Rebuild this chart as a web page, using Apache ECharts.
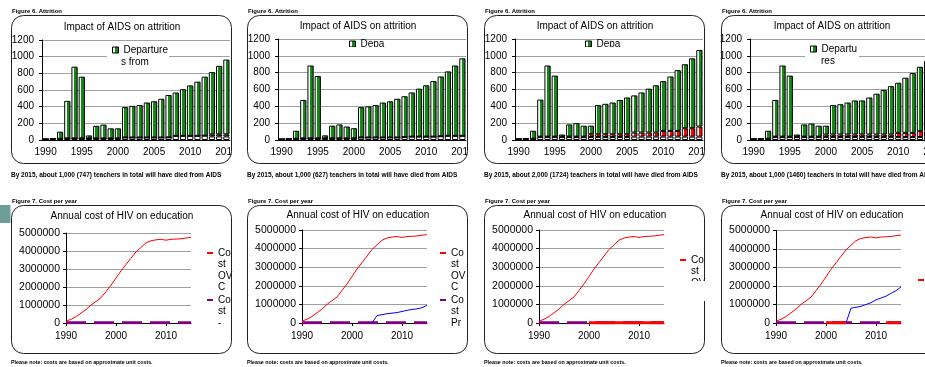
<!DOCTYPE html>
<html><head><meta charset="utf-8">
<script src="https://cdn.jsdelivr.net/npm/echarts@6/dist/echarts.min.js"></script>
<style>
html,body{margin:0;padding:0;width:925px;height:367px;overflow:hidden;background:#fff;}
.cell{position:absolute;overflow:hidden;}
</style></head><body>
<div id="c1" class="cell" style="left:0px;top:0px;width:232px;height:190px"></div>
<div id="c2" class="cell" style="left:236px;top:0px;width:232px;height:190px"></div>
<div id="c3" class="cell" style="left:473px;top:0px;width:232px;height:190px"></div>
<div id="c4" class="cell" style="left:710px;top:0px;width:232px;height:190px"></div>
<div id="c5" class="cell" style="left:0px;top:190px;width:233px;height:177px"></div>
<div id="c6" class="cell" style="left:236px;top:190px;width:233px;height:177px"></div>
<div id="c7" class="cell" style="left:473px;top:190px;width:233px;height:177px"></div>
<div id="c8" class="cell" style="left:710px;top:190px;width:233px;height:177px"></div>
<script>
// ---------- data ----------
const years = ['1990','1991','1992','1993','1994','1995','1996','1997','1998','1999','2000','2001','2002','2003','2004','2005','2006','2007','2008','2009','2010','2011','2012','2013','2014','2015'];

const ch1White = [10,15,15,20,20,20,20,20,20,20,20,30,30,30,30,30,30,32,50,50,50,50,52,43,43,43];
const ch1Red   = [0,0,0,0,0,0,0,0,0,0,0,0,0,0,0,0,0,0,0,0,0,0,0,25,25,25];
const ch1Green = [0,5,85,450,860,740,35,150,165,120,120,365,380,390,420,435,465,508,520,560,605,650,708,747,822,897];

const ch2White = [10,15,15,20,20,20,20,20,20,20,20,30,30,30,30,30,30,35,40,40,40,40,45,50,50,50];
const ch2Red   = [0,0,0,0,0,0,0,0,0,0,0,0,0,0,0,0,0,0,0,0,0,0,0,0,0,0];
const ch2Green = [0,5,95,455,865,740,35,150,165,140,120,360,370,385,415,430,460,485,525,570,610,660,710,765,835,920];

const ch3White = [10,15,15,35,35,35,35,35,35,35,35,35,35,35,35,35,40,40,40,40,40,40,40,40,40,40];
const ch3Red   = [0,0,0,5,5,5,5,5,5,5,33,33,33,33,33,33,48,48,48,48,68,68,68,100,100,120];
const ch3Green = [5,5,95,440,845,725,25,145,160,130,102,347,362,377,407,437,442,477,522,562,592,647,722,760,830,910];

const ch4White = [10,15,15,35,35,35,35,35,35,35,35,35,35,35,35,35,35,35,35,35,35,35,35,35,35,35];
const ch4Red   = [0,0,0,5,5,5,5,5,5,5,30,30,30,30,30,30,30,30,30,30,50,50,50,70,70,75];
const ch4Green = [5,5,95,435,845,725,25,145,155,130,105,350,360,380,405,405,440,485,530,575,595,655,710,765,835,900];

const costOVC = [100000,200000,350000,550000,750000,1000000,1200000,1400000,1750000,2100000,2500000,2900000,3250000,3600000,3950000,4200000,4450000,4570000,4620000,4650000,4600000,4650000,4660000,4680000,4720000,4750000];
const costPr  = [20000,20000,20000,20000,20000,20000,20000,20000,20000,20000,20000,20000,20000,20000,20000,20000,20000,20000,20000,20000,20000,20000,20000,20000,20000,20000];
const costTreat6 = [null,null,null,null,null,null,null,null,null,null,null,null,null,null,0,400000,450000,500000,530000,560000,620000,680000,730000,760000,820000,960000];
const costTreat8 = [null,null,null,null,null,null,null,null,null,null,null,null,null,null,0,800000,850000,900000,1000000,1100000,1250000,1350000,1450000,1600000,1750000,1950000];
const costBase7 = [null,null,null,null,null,null,null,null,null,null,20000,20000,20000,20000,20000,20000,20000,20000,20000,20000,20000,20000,20000,20000,20000,20000];
const costBase8 = [null,null,null,null,null,null,null,null,null,null,20000,20000,20000,20000,20000,null,null,null,null,null,null,null,20000,20000,20000,20000];

const barTitle = 'Impact of AIDS on attrition';
const lineTitle = 'Annual cost of HIV on education';
const barCaptionTop = 'Figure 6. Attrition';
const barCaptions = [
  'By 2015, about 1,000 (747) teachers in total will have died from AIDS',
  'By 2015, about 1,000 (627) teachers in total will have died from AIDS',
  'By 2015, about 2,000 (1724) teachers in total will have died from AIDS',
  'By 2015, about 1,000 (1460) teachers in total will have died from AIDS'
];
const lineCaptionTop = 'Figure 7. Cost per year';
const lineCaption = 'Please note: costs are based on approximate unit costs.';

// ---------- helpers ----------
const F = 'Liberation Sans, Arial, sans-serif';
const greenFill = {type:'linear',x:0,y:0,x2:1,y2:0,colorStops:[
  {offset:0,color:'#ffffff'},{offset:0.38,color:'#ffffff'},{offset:0.38,color:'#138a13'},{offset:1,color:'#138a13'}]};
const redFill = {type:'linear',x:0,y:0,x2:1,y2:0,colorStops:[
  {offset:0,color:'#ffffff'},{offset:0.38,color:'#ffffff'},{offset:0.38,color:'#ff0000'},{offset:1,color:'#ff0000'}]};

// legend entry: icon + first line of the (wrapped) label; remaining lines as text below
function legendItem(name, firstLine, iconX, iconY, iconW, iconH, LH, extra) {
  return Object.assign({
    data:[name], left:iconX, top: iconY - LH/2, orient:'vertical', padding:0,
    itemWidth:iconW, itemHeight:iconH, itemGap:0, selectedMode:false, icon:'rect',
    formatter: function(){ return firstLine; },
    textStyle:{fontFamily:F, fontSize:10, color:'#000', lineHeight:LH}
  }, extra || {});
}
function moreLines(text, iconX, iconY, iconW, LH) {
  return {type:'text', silent:true, z:6, x:iconX + iconW + 5, y:iconY + LH/2,
    style:{text:text, font:'10px '+F, lineHeight:LH, fill:'#000', verticalAlign:'top'}};
}

function frame(captionTop, captionBottom, bottomY, bottomFont, extra) {
  const g = [
    {type:'rect', silent:true, z:10, shape:{x:11.5,y:15.5,width:220,height:148,r:12}, style:{fill:'none',stroke:'#222',lineWidth:1}},
    {type:'text', silent:true, z:10, x:12, y:11, style:{text:captionTop, font:'bold 6px '+F, fill:'#000', verticalAlign:'middle'}},
    {type:'text', silent:true, z:10, x:11, y:bottomY, style:{text:captionBottom, font:'bold '+bottomFont+'px '+F, fill:'#000', verticalAlign:'middle'}}
  ];
  return g.concat(extra || []);
}

function barOption(d) {
  return {
    animation:false,
    title:{text:barTitle, left:122, top:d.titleY, textAlign:'center', textVerticalAlign:'middle', padding:0,
      textStyle:{fontFamily:F, fontSize:10, fontWeight:'normal', color:'#000'}},
    grid:{left:d.left, top:d.top, width:188, height:d.h, outerBoundsMode:'none', containLabel:false},
    xAxis:{type:'category', data:years,
      axisLine:{lineStyle:{color:'#000',width:1}}, axisTick:{show:false},
      axisLabel:{interval:4, fontFamily:F, fontSize:10, color:'#000', margin:7}},
    yAxis:{type:'value', min:0, max:1200, interval:200,
      axisLine:{show:true, lineStyle:{color:'#000'}}, axisTick:{show:true, length:3, lineStyle:{color:'#000'}},
      splitLine:{lineStyle:{color:'#a0a0a0'}},
      axisLabel:{fontFamily:F, fontSize:10, color:'#000', margin:8, formatter:function(v){return String(v);}}},
    legend:[legendItem('Departures from service', d.legendText, d.lx, d.ly, 6, 6, 12,
      {itemStyle:{borderWidth:1, borderColor:'#000'}})],
    series:[
      {name:'Other attrition', type:'bar', stack:'a', data:d.white, barCategoryGap:'14%',
        itemStyle:{color:'#ffffff', borderColor:'#000', borderWidth:1}},
      {name:'Deaths from AIDS', type:'bar', stack:'a', data:d.red,
        itemStyle:{color:redFill, borderColor:'#000', borderWidth:1}},
      {name:'Departures from service', type:'bar', stack:'a', data:d.green,
        itemStyle:{color:greenFill, borderColor:'#000', borderWidth:1}}
    ],
    graphic: frame(barCaptionTop, d.caption, 175, 6.5, d.extra)
  };
}

function lineOption(d) {
  const series = [
    {name:'Cost OVC', type:'line', data:costOVC, symbol:'none', color:'#ff0000', lineStyle:{color:'#ff0000', width:1}, z:3},
    {name:'Cost Pr', type:'line', data:costPr, symbol:'none', color:'#800080', lineStyle:{color:'#800080', width:3, type:[20,8]}, z:3}
  ];
  if (d.treat) series.push({name:'Cost Treatment', type:'line', data:d.treat, symbol:'none', color:'#0000ff', lineStyle:{color:'#0000ff', width:1}, z:3});
  if (d.base) series.push({name:'Cost OVC base', type:'line', data:d.base, symbol:'none', color:'#ff0000', lineStyle:{color:'#ff0000', width:3}, z:4});
  return {
    animation:false,
    title:{text:lineTitle, left:122, top:d.titleY, textAlign:'center', textVerticalAlign:'middle', padding:0,
      textStyle:{fontFamily:F, fontSize:10, fontWeight:'normal', color:'#000'}},
    grid:{left:66, top:d.top, width:125, height:d.h, outerBoundsMode:'none', containLabel:false},
    xAxis:{type:'category', data:years, boundaryGap:false,
      axisLine:{lineStyle:{color:'#000',width:1}}, axisTick:{show:true, interval:9, length:3, lineStyle:{color:'#000'}},
      axisLabel:{interval:9, fontFamily:F, fontSize:10, color:'#000', margin:8}},
    yAxis:{type:'value', min:0, max:5000000, interval:1000000,
      axisLine:{show:true, lineStyle:{color:'#000'}}, axisTick:{show:true, length:3, lineStyle:{color:'#000'}},
      splitLine:{lineStyle:{color:'#a0a0a0'}},
      axisLabel:{fontFamily:F, fontSize:10.5, color:'#000', margin:6, formatter:function(v){return String(v);}}},
    legend:d.legends,
    series:series,
    graphic: frame(lineCaptionTop, lineCaption, 173, 5.3, d.extra)
  };
}

function draw(id, opt) {
  const c = echarts.init(document.getElementById(id), null, {renderer:'canvas'});
  c.setOption(opt);
}

// ---------- bar charts ----------
draw('c1', barOption({white:ch1White, red:ch1Red, green:ch1Green, left:42, top:40, h:100, titleY:27,
  legendText:'Departure', lx:112, ly:50, caption:barCaptions[0],
  extra:[{type:'rect', silent:true, z:1, shape:{x:107,y:44,width:62,height:24}, style:{fill:'#fff'}},
         moreLines('s from', 110, 50, 6, 12)]}));
draw('c2', barOption({white:ch2White, red:ch2Red, green:ch2Green, left:42, top:39, h:101, titleY:26,
  legendText:'Depa', lx:113, ly:44, caption:barCaptions[1],
  extra:[{type:'rect', silent:true, z:20, shape:{x:108,y:47,width:42,height:5}, style:{fill:'#fff'}}]}));
draw('c3', barOption({white:ch3White, red:ch3Red, green:ch3Green, left:42, top:39, h:101, titleY:26,
  legendText:'Depa', lx:112, ly:44, caption:barCaptions[2],
  extra:[{type:'rect', silent:true, z:20, shape:{x:107,y:47,width:42,height:5}, style:{fill:'#fff'}}]}));
draw('c4', barOption({white:ch4White, red:ch4Red, green:ch4Green, left:40, top:39, h:101, titleY:26,
  legendText:'Departu', lx:100, ly:49, caption:barCaptions[3],
  extra:[{type:'rect', silent:true, z:1, shape:{x:95,y:44,width:54,height:24}, style:{fill:'#fff'}},
         moreLines('res', 100, 49, 6, 12)]}));

// ---------- line charts ----------
const LH = 11.5;
draw('c5', lineOption({top:43, h:90, titleY:26,
  legends:[legendItem('Cost OVC','Co',207,63,6,2,LH), legendItem('Cost Pr','Co',207,110,6,2,LH)],
  extra:[moreLines('st\nOV\nC',207,63,6,LH), moreLines('st\n-',207,110,6,LH),
         {type:'rect', silent:true, z:11, shape:{x:0,y:15,width:10.5,height:18}, style:{fill:'#6d9c99'}}]}));
draw('c6', lineOption({top:40, h:93, titleY:25, treat:costTreat6,
  legends:[legendItem('Cost OVC','Co',204,63,6,2,LH), legendItem('Cost Pr','Co',204,110,6,2,LH)],
  extra:[moreLines('st\nOV\nC',204,63,6,LH), moreLines('st\nPr',204,110,6,LH)]}));
draw('c7', lineOption({top:40, h:93, titleY:25, base:costBase7,
  legends:[legendItem('Cost OVC','Co',207,70,6,2,LH)],
  extra:[moreLines('st\nOV',207,70,6,LH),
         {type:'rect', silent:true, z:20, shape:{x:200,y:91,width:33,height:20}, style:{fill:'#fff'}}]}));
draw('c8', lineOption({top:40.5, h:92.5, titleY:25, treat:costTreat8, base:costBase8,
  legends:[legendItem('Cost OVC','Co',208,90,6,2,LH)],
  extra:[moreLines('st\nOV\nC',208,90,6,LH)]}));
</script>
</body></html>
